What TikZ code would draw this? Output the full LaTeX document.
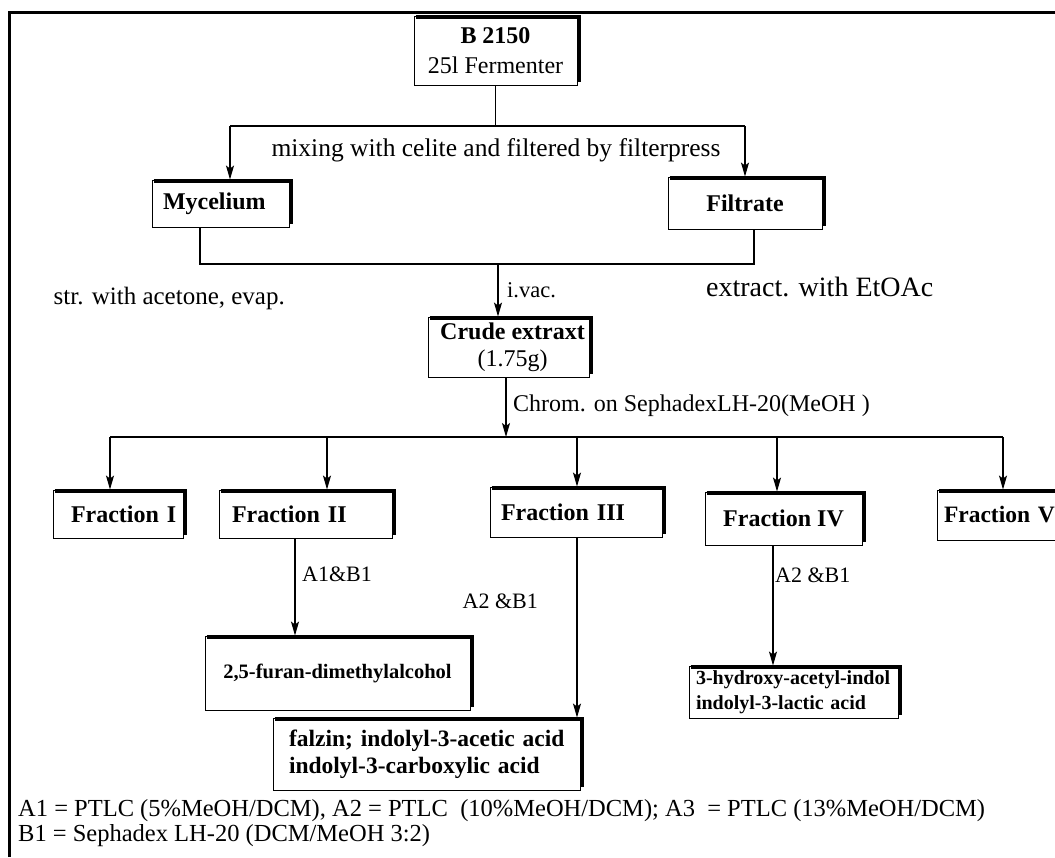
\documentclass[tikz,border=0pt]{standalone}
\usepackage{fontspec}
\setmainfont{Liberation Serif}
\usetikzlibrary{arrows.meta,calc}
\newcommand{\fsz}[1]{\fontsize{#1}{#1}\selectfont}
\begin{document}
\begin{tikzpicture}[x=1pt,y=-1pt,
  every node/.style={inner sep=0pt},
  box/.style={draw, line width=0.9pt, align=center, font=\fontsize{24}{27}\selectfont\bfseries},
  lbox/.style={box, align=left},
  lbl/.style={font=\fontsize{24}{27}\selectfont},
  conn/.style={line width=1.2pt},
  arr/.style={line width=1.2pt, -{Stealth[length=14pt,width=8pt,inset=3pt]}},
  shade/.style={line width=3.5pt}]
\useasboundingbox (0,0) rectangle (1055,857);
\clip (0,0) rectangle (1055,857);
% outer frame
\draw[line width=3pt] (9,857) -- (9,12) -- (1055,12);

% boxes
\node[box, minimum width=163pt, minimum height=69pt] (b) at (495.5,50.5) {B 2150\\[3pt]\mdseries 25l Fermenter};
\node[lbox, inner xsep=11pt, text width=115pt, minimum height=47pt] (my) at (220.5,203.5) {\mbox{Mycelium}};
\node[box, minimum width=154pt, minimum height=52pt] (fi) at (745,203) {Filtrate};
\node[box, minimum width=161pt, minimum height=60pt] (cr) at (508.5,347) {\hspace*{8pt}Crude extraxt\\\mdseries\hspace*{8pt}(1.75g)};
\node[lbox, inner xsep=18pt, text width=94pt, minimum height=48pt] (f1) at (118,514) {\mbox{Fraction I}};
\node[lbox, inner xsep=13pt, text width=147pt, minimum height=48pt] (f2) at (305.5,514) {\mbox{Fraction II}};
\node[lbox, inner xsep=11pt, text width=150pt, minimum height=50pt] (f3) at (576,512) {\mbox{Fraction III}};
\node[box, minimum width=157pt, minimum height=53pt] (f4) at (783.5,518.5) {Fraction IV};
\node[lbox, inner xsep=7pt, text width=120pt, minimum height=50pt, font=\fontsize{23.5}{27}\selectfont\bfseries] (f5) at (1004,515) {\mbox{Fraction V}};
\node[box, minimum width=265pt, minimum height=74pt, font=\fontsize{20.5}{24}\selectfont\bfseries] (r2) at (337.5,673) {2,5-furan-dimethylalcohol};
\node[lbox, inner xsep=16pt, text width=275pt, minimum height=72pt, font=\fontsize{23.5}{27}\selectfont\bfseries] (r3) at (426.5,754) {\mbox{falzin; indolyl-3-acetic acid}\\\mbox{indolyl-3-carboxylic acid}};
\node[lbox, inner xsep=7pt, text width=195pt, minimum height=52pt, font=\fontsize{20}{25}\selectfont\bfseries] (r4) at (793.5,692) {\mbox{3-hydroxy-acetyl-indol}\\\mbox{indolyl-3-lactic acid}};

% thick top/right edges
\foreach \n in {b,my,fi,cr,f1,f2,f3,f4,f5,r2,r3,r4}{
  \draw[shade] ([shift={(2pt,-1.5pt)}]\n.north west) -- ([shift={(1.5pt,-1.5pt)}]\n.north east) -- ([shift={(1.5pt,3pt)}]\n.south east);
}

% connectors top
\coordinate (t1) at (230,126);
\coordinate (t2) at (745,126);
\draw[conn] (b.south) -- (b.south |- t1);
\draw[arr] (t1) -- (t1 |- my.north);
\draw[conn] (t1) -- (t2);
\draw[arr] (t2) -- (t2 |- fi.north);
\node[lbl, font=\fsz{25.5}] (mix) at (496,150) {mixing with celite and filtered by filterpress};

% merge
\coordinate (m1) at (200,264);
\coordinate (m2) at (754,264);
\coordinate (m0) at (498,264);
\draw[conn] (my.south -| m1) -- (m1) -- (m2) -- (fi.south -| m2);
\draw[arr] (m0) -- (m0 |- cr.north);
\node[lbl, font=\fsz{25}, anchor=east] (str) at (285,298) {str. with acetone, evap.};
\node[lbl, font=\fsz{22.5}, anchor=west] (iv) at (507,290) {i.vac.};
\node[lbl, font=\fsz{28}, anchor=west] (ext) at (706,287) {extract. with EtOAc};

% fractions
\coordinate (c0) at (506,437);
\coordinate (c1) at (110,437);
\coordinate (c2) at (327,437);
\coordinate (c3) at (577,437);
\coordinate (c4) at (777,437);
\coordinate (c5) at (1003,437);
\draw[arr] (cr.south -| c0) -- (c0);
\draw[conn] (c1) -- (c5);
\foreach \c/\f in {c1/f1,c2/f2,c3/f3,c4/f4,c5/f5}{
  \draw[arr] (\c) -- (\c |- \f.north);
}
\node[lbl, anchor=west] (chrom) at (513,406) {Chrom. on SephadexLH-20(MeOH )};

% results
\coordinate (d2) at (295,600);
\coordinate (d3) at (577,600);
\coordinate (d4) at (773,600);
\draw[arr] (f2.south -| d2) -- (d2 |- r2.north);
\draw[arr] (f3.south -| d3) -- (d3 |- r3.north);
\draw[arr] (f4.south -| d4) -- (d4 |- r4.north);
\node[lbl, font=\fsz{22}, anchor=west] (l2) at (302,574) {A1\&B1};
\node[lbl, font=\fsz{22}, anchor=east] (l3) at (538,601) {A2 \&B1};
\node[lbl, font=\fsz{22}, anchor=west] (l4) at (775,575) {A2 \&B1};

% footnotes
\node[lbl, font=\fsz{24.5}, anchor=west] (n1) at (18,811) {A1 = PTLC (5\%MeOH/DCM), A2 = PTLC\ \ (10\%MeOH/DCM); A3\ \ = PTLC (13\%MeOH/DCM)};
\node[lbl, font=\fsz{24.5}, anchor=west] (n2) at (18,836) {B1 = Sephadex LH-20 (DCM/MeOH 3:2)};
\end{tikzpicture}
\end{document}
